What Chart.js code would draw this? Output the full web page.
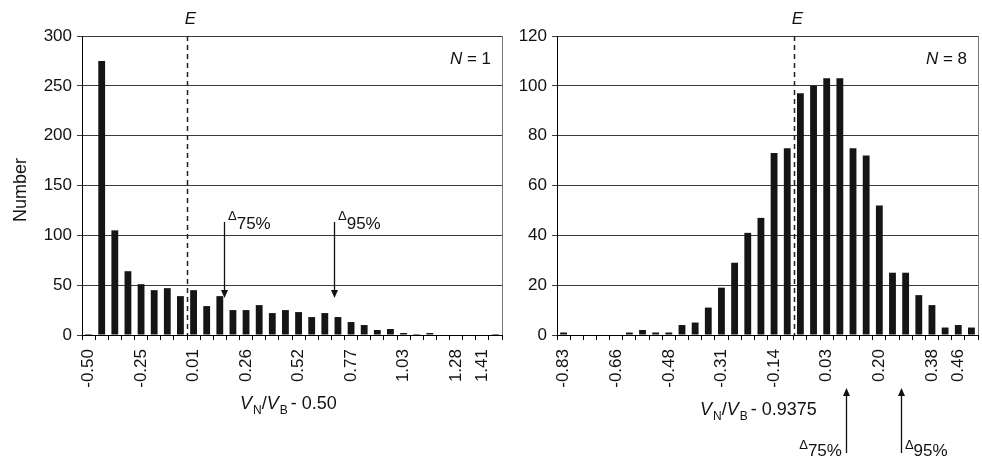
<!DOCTYPE html>
<html>
<head>
<meta charset="utf-8">
<script src="https://cdn.jsdelivr.net/npm/chart.js@4.4.0/dist/chart.umd.min.js"></script>
<style>
  body { margin: 0; background: #fff; }
  #wrap { position: relative; width: 982px; height: 458px; }
  canvas { position: absolute; top: 0; }
</style>
</head>
<body>
<div id="wrap">
  <canvas id="left" width="510" height="458" style="left:0"></canvas>
  <canvas id="right" width="472" height="458" style="left:510px"></canvas>
</div>
<script>
// N = 1 histogram
const labelsN1 = ['-0.50', '', '', '', '-0.25', '', '', '', '0.01', '', '', '', '0.26', '', '', '',
  '0.52', '', '', '', '0.77', '', '', '', '1.03', '', '', '', '1.28', '', '1.41', ''];
const countsN1 = [1, 275, 105, 64, 51, 45, 47, 39, 45, 29, 39, 25, 25, 30, 22, 25,
  23, 18, 22, 18, 13, 10, 5, 6, 2, 1, 2, 0, 0, 0, 0, 1];
const yTicksN1 = { max: 300, step: 50 };
// marker positions in category units: E line, delta 75% and 95%
const markersN1 = { e: 7.5, d75: 10.32, d95: 18.7 };

// N = 8 histogram
const labelsN8 = ['-0.83', '', '', '', '-0.66', '', '', '', '-0.48', '', '', '', '-0.31', '', '', '',
  '-0.14', '', '', '', '0.03', '', '', '', '0.20', '', '', '', '0.38', '', '0.46', ''];
const countsN8 = [1, 0, 0, 0, 0, 1, 2, 1, 1, 4, 5, 11, 19, 29, 41, 47,
  73, 75, 97, 100, 103, 103, 75, 72, 52, 25, 25, 16, 12, 3, 4, 3];
const yTicksN8 = { max: 120, step: 20 };
const markersN8 = { e: 17.5, d75: 21.46, d95: 25.64 };

const FONT = '"Liberation Sans", Arial, sans-serif';
const INK = '#111';

function drawParts(ctx, parts, x, y) {
  parts.forEach(p => {
    ctx.font = (p.italic ? 'italic ' : '') + (p.sub ? '12px ' : '18px ') + FONT;
    ctx.textAlign = 'left';
    ctx.fillText(p.t, x, p.sub ? y + 5 : y);
    x += ctx.measureText(p.t).width + (p.gap || 0);
  });
}

function deltaLabel(ctx, pct, x, side, dBase, pBase) {
  ctx.font = '13px ' + FONT;
  const dw = ctx.measureText('\u0394').width;
  ctx.font = '17px ' + FONT;
  const pw = ctx.measureText(pct).width;
  let sx = side === 'right' ? x + 4 : x - 4 - dw - pw;
  ctx.textAlign = 'left';
  ctx.font = '13px ' + FONT;
  ctx.fillText('\u0394', sx, dBase);
  ctx.font = '17px ' + FONT;
  ctx.fillText(pct, sx + dw, pBase);
}

function arrow(ctx, x, y0, tip) {
  const dir = tip > y0 ? 1 : -1;
  x = Math.round(x) + 0.5;
  ctx.strokeStyle = INK;
  ctx.lineWidth = 1.3;
  ctx.beginPath();
  ctx.moveTo(x, y0);
  ctx.lineTo(x, tip - dir * 6);
  ctx.stroke();
  ctx.beginPath();
  ctx.moveTo(x, tip);
  ctx.lineTo(x - 3.5, tip - dir * 8);
  ctx.lineTo(x + 3.5, tip - dir * 8);
  ctx.closePath();
  ctx.fill();
}

function overlay(cfg) {
  return {
    id: 'overlay',
    afterDraw(chart) {
      const { ctx, chartArea: a, scales: { x } } = chart;
      ctx.save();
      ctx.fillStyle = INK;

      // right border of plot
      ctx.strokeStyle = '#777';
      ctx.lineWidth = 1;
      ctx.beginPath();
      ctx.moveTo(Math.round(a.right) + 0.5, a.top);
      ctx.lineTo(Math.round(a.right) + 0.5, a.bottom);
      ctx.stroke();

      // E dashed line
      const ex = Math.round(x.getPixelForValue(cfg.markers.e)) + 0.5;
      ctx.strokeStyle = '#222';
      ctx.lineWidth = 1.5;
      ctx.setLineDash([5, 4]);
      ctx.beginPath();
      ctx.moveTo(ex, a.top);
      ctx.lineTo(ex, a.bottom);
      ctx.stroke();
      ctx.setLineDash([]);
      ctx.font = 'italic 17px ' + FONT;
      ctx.textAlign = 'center';
      ctx.fillText('E', ex + 3, 24);

      // N = ... label
      ctx.font = '17px ' + FONT;
      const rest = ' = ' + cfg.n;
      const rw = ctx.measureText(rest).width;
      ctx.textAlign = 'left';
      ctx.fillText(rest, a.right - 11 - rw, 64);
      ctx.font = 'italic 17px ' + FONT;
      ctx.textAlign = 'right';
      ctx.fillText('N', a.right - 11 - rw, 64);

      // delta arrows
      const x75 = x.getPixelForValue(cfg.markers.d75);
      const x95 = x.getPixelForValue(cfg.markers.d95);
      arrow(ctx, x75, cfg.arrowY[0], cfg.arrowY[1]);
      arrow(ctx, x95, cfg.arrowY[0], cfg.arrowY[1]);
      deltaLabel(ctx, '75%', x75, cfg.side75, cfg.dBase, cfg.pBase);
      deltaLabel(ctx, '95%', x95, 'right', cfg.dBase, cfg.pBase);

      // x axis title
      drawParts(ctx, [
        { t: 'V', italic: true, gap: 1 },
        { t: 'N', sub: true, gap: 0 },
        { t: '/', gap: 0 },
        { t: 'V', italic: true, gap: 1 },
        { t: 'B', sub: true, gap: 3 },
        { t: '- ' + cfg.shift }
      ], cfg.titleX, cfg.titleY);

      if (cfg.yTitle) {
        ctx.translate(21, 190);
        ctx.rotate(-Math.PI / 2);
        ctx.font = '18px ' + FONT;
        ctx.textAlign = 'center';
        ctx.textBaseline = 'middle';
        ctx.fillText(cfg.yTitle, 0, 0);
      }
      ctx.restore();
    }
  };
}

function makeChart(id, labels, counts, yTicks, yWidth, padRight, cfg) {
  return new Chart(document.getElementById(id), {
    type: 'bar',
    data: {
      labels: labels,
      datasets: [{
        data: counts,
        backgroundColor: '#151515',
        barPercentage: 0.52,
        categoryPercentage: 1
      }]
    },
    options: {
      responsive: false,
      animation: false,
      layout: { padding: { top: 36, right: padRight, left: 0, bottom: 0 } },
      plugins: { legend: { display: false }, tooltip: { enabled: false } },
      scales: {
        x: {
          afterFit: s => { s.height = 123; s.paddingLeft = 0; s.paddingRight = 0; },
          grid: { drawOnChartArea: false, tickLength: 5, color: '#000', offset: true },
          border: { color: '#000', width: 1 },
          ticks: {
            autoSkip: false, maxRotation: 90, minRotation: 90, padding: 9,
            color: INK, font: { family: FONT, size: 17 }
          }
        },
        y: {
          min: 0, max: yTicks.max,
          afterFit: s => { s.width = yWidth; s.paddingTop = 0; s.paddingBottom = 0; },
          grid: { color: '#3a3a3a', tickLength: 5 },
          border: { color: '#000', width: 1 },
          ticks: {
            stepSize: yTicks.step, padding: 5,
            color: INK, font: { family: FONT, size: 17 }
          }
        }
      }
    },
    plugins: [overlay(cfg)]
  });
}

makeChart('left', labelsN1, countsN1, yTicksN1, 82, 8, {
  markers: markersN1, n: 1, arrowY: [222, 298], side75: 'right',
  dBase: 220, pBase: 229, shift: '0.50', titleX: 240, titleY: 409, yTitle: 'Number'
});

makeChart('right', labelsN8, countsN8, yTicksN8, 47, 4, {
  markers: markersN8, n: 8, arrowY: [453, 388], side75: 'left',
  dBase: 449, pBase: 456, shift: '0.9375', titleX: 190, titleY: 415
});
</script>
</body>
</html>
